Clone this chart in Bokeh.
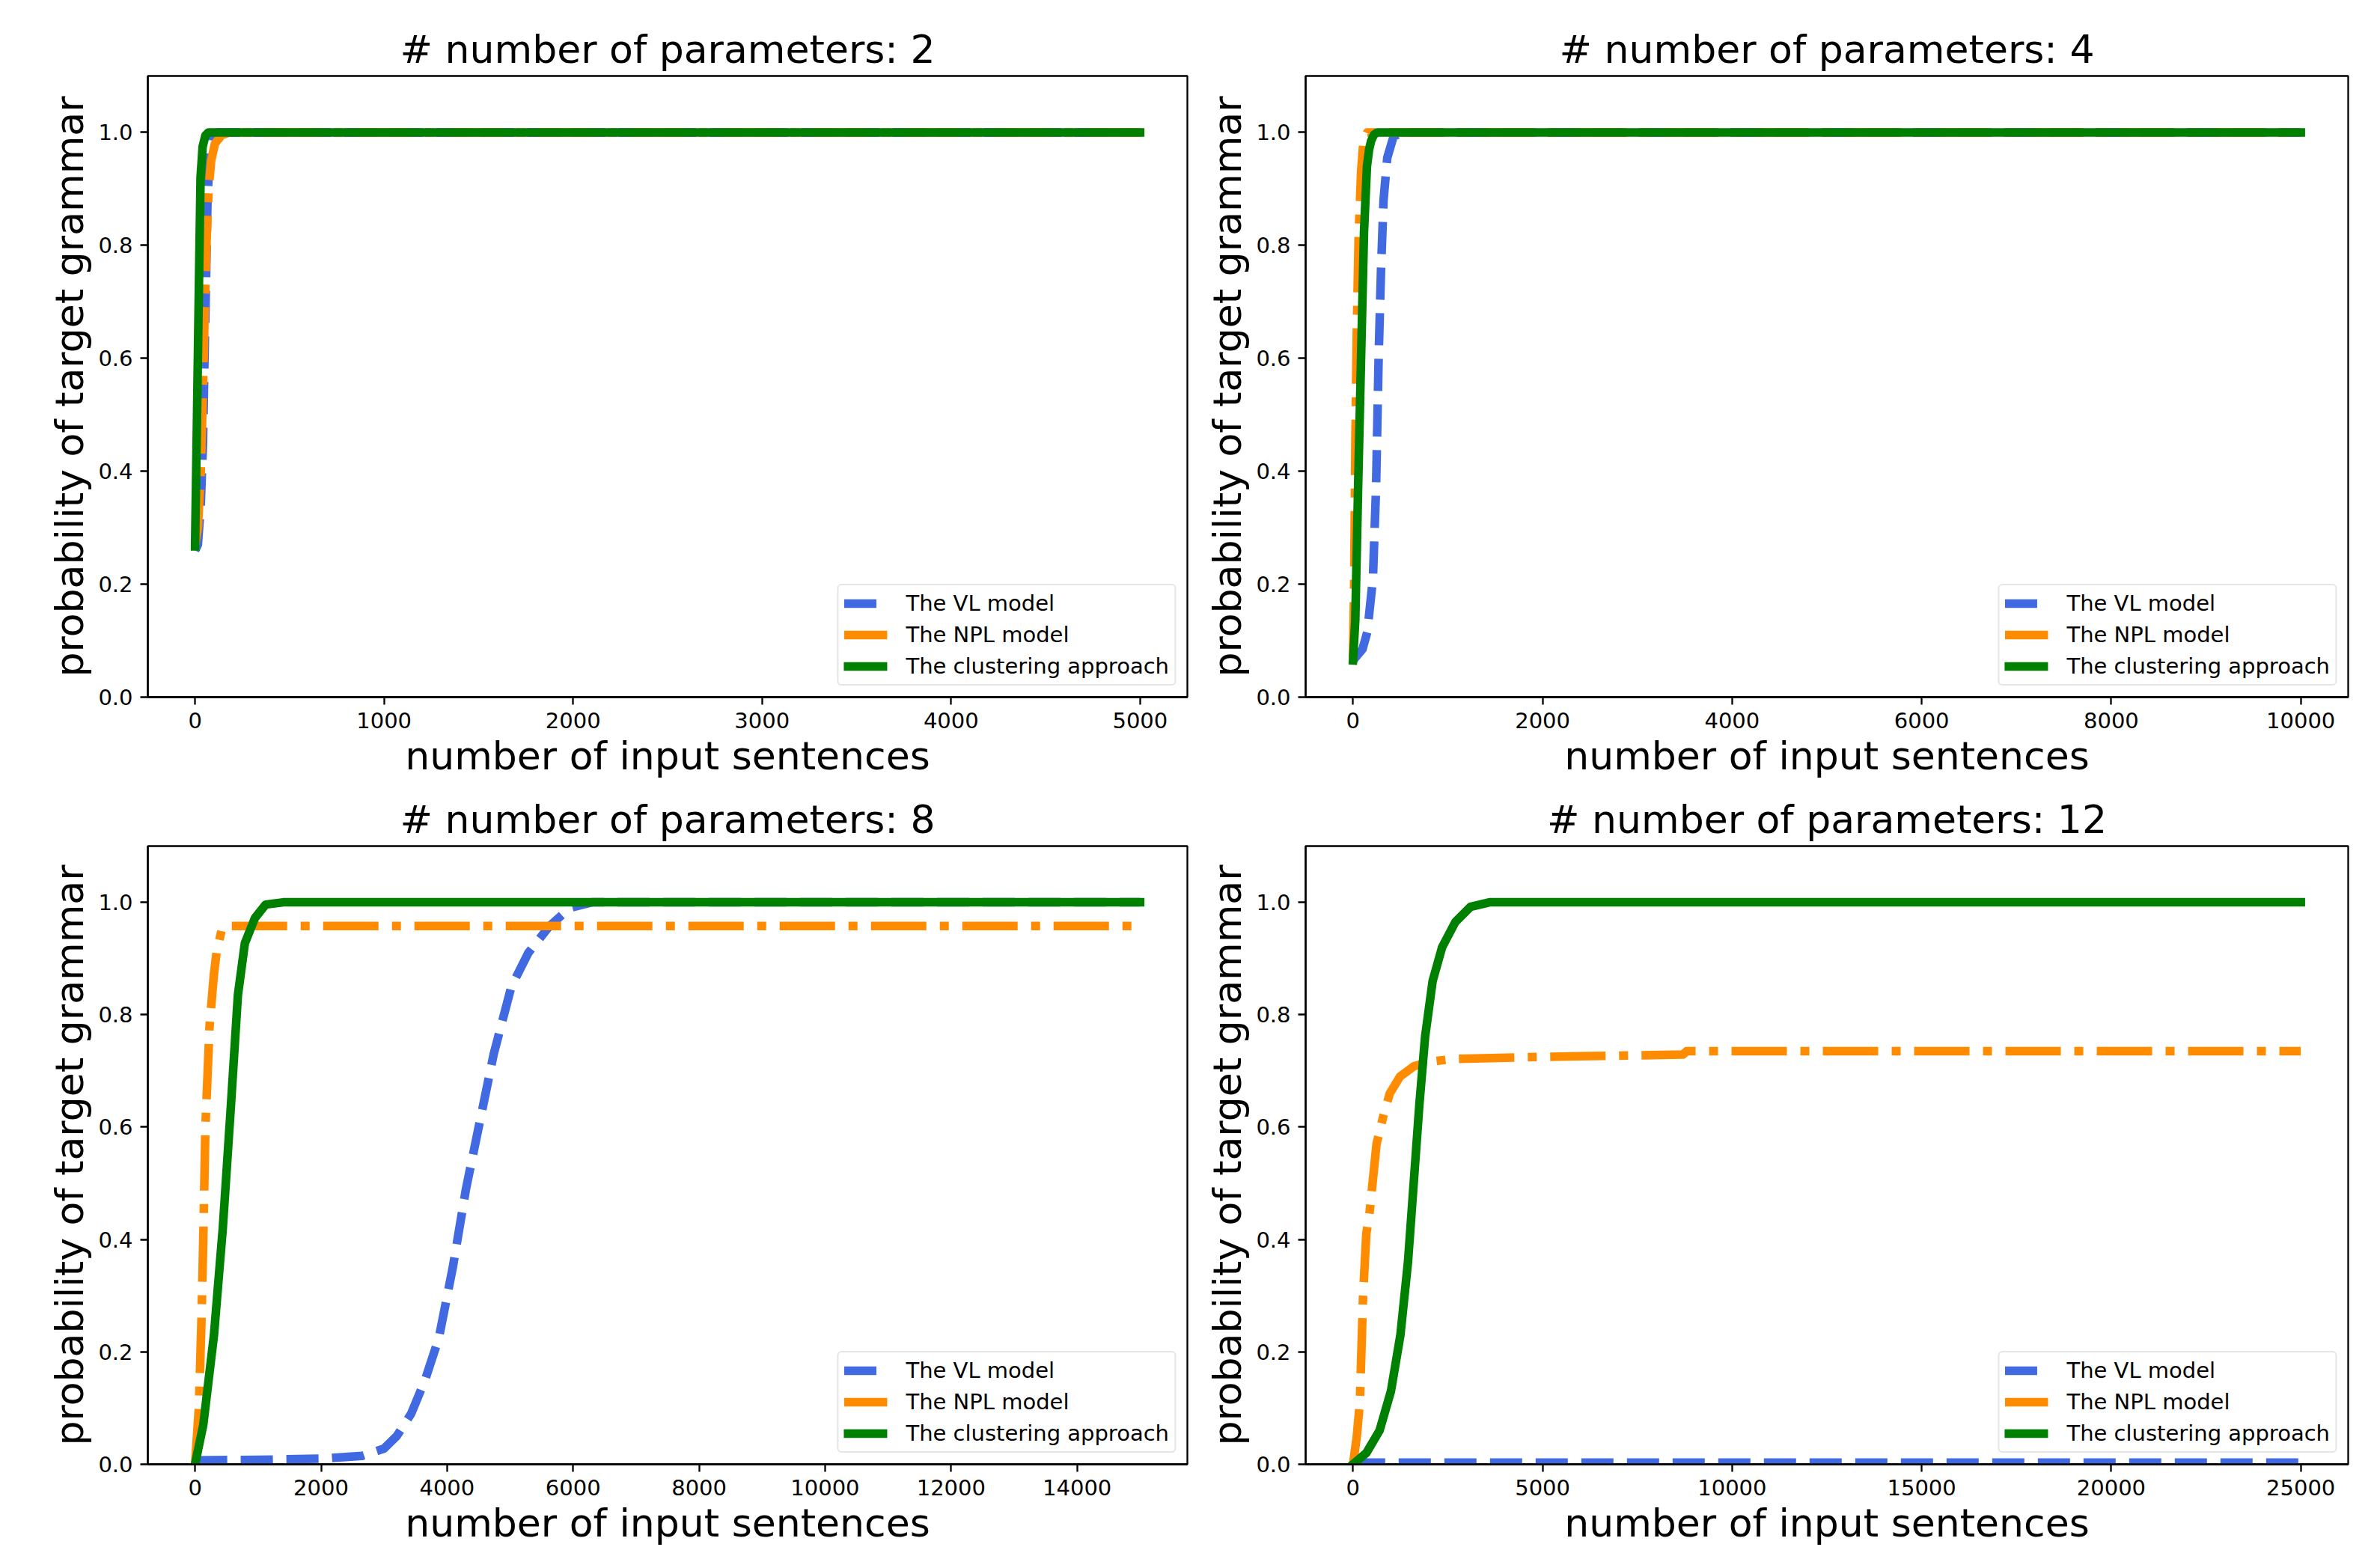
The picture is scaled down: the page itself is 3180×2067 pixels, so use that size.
from bokeh.plotting import figure
from bokeh.layouts import column, row
from bokeh.models import Range1d, FixedTicker, PrintfTickFormatter
from bokeh.embed import file_html
from bokeh.resources import INLINE

# ---------------- data ----------------
titles = ["# number of parameters: 2", "# number of parameters: 4",
          "# number of parameters: 8", "# number of parameters: 12"]
series_names = ["The VL model", "The NPL model", "The clustering approach"]

# panel: 2 parameters
p2_vl_x = [0, 15, 30, 42, 50, 57, 65, 75, 95, 120, 5000]
p2_vl_y = [0.26, 0.27, 0.34, 0.45, 0.6, 0.72, 0.87, 0.95, 0.99, 1.0, 1.0]
p2_npl_x = [0, 15, 30, 42, 52, 62, 72, 85, 105, 140, 180, 5000]
p2_npl_y = [0.27, 0.3, 0.4, 0.55, 0.7, 0.82, 0.9, 0.95, 0.98, 0.995, 1.0, 1.0]
p2_cl_x = [0, 10, 20, 29, 40, 55, 70, 100, 5000]
p2_cl_y = [0.267, 0.49, 0.72, 0.92, 0.975, 0.995, 1.0, 1.0, 1.0]

# panel: 4 parameters
p4_vl_x = [0, 100, 150, 210, 243, 270, 296, 322, 361, 428, 530, 10000]
p4_vl_y = [0.065, 0.085, 0.115, 0.21, 0.37, 0.6, 0.76, 0.88, 0.955, 0.993, 1.0, 1.0]
p4_npl_x = [0, 12, 25, 40, 60, 85, 110, 150, 10000]
p4_npl_y = [0.07, 0.2, 0.45, 0.65, 0.82, 0.93, 0.985, 1.0, 1.0]
p4_cl_x = [0, 24, 53, 84, 116, 147, 170, 191, 220, 257, 10000]
p4_cl_y = [0.065, 0.137, 0.366, 0.595, 0.824, 0.94, 0.97, 0.985, 0.996, 1.0, 1.0]

# panel: 8 parameters
p8_vl_x = [0, 1000, 2000, 2650, 3000, 3200, 3430, 3650, 3870, 4090, 4300, 4520,
           4740, 5020, 5290, 5620, 5950, 6300, 15000]
p8_vl_y = [0.007, 0.008, 0.01, 0.015, 0.028, 0.05, 0.09, 0.15, 0.225, 0.35, 0.49,
           0.61, 0.73, 0.85, 0.91, 0.957, 0.99, 1.0, 1.0]
p8_npl_x = [0, 60, 100, 130, 164, 230, 297, 340, 430, 520, 15000]
p8_npl_y = [0.0, 0.1, 0.25, 0.4, 0.6, 0.78, 0.87, 0.91, 0.955, 0.958, 0.958]
p8_cl_x = [0, 130, 300, 440, 570, 680, 790, 950, 1120, 1400, 15000]
p8_cl_y = [0.0, 0.07, 0.23, 0.42, 0.64, 0.835, 0.927, 0.972, 0.996, 1.0, 1.0]

# panel: 12 parameters
p12_vl_x = [0, 25000]
p12_vl_y = [0.003, 0.003]
p12_npl_x = [0, 100, 180, 265, 350, 440, 620, 800, 970, 1240, 1600, 2000, 2600,
             4300, 6000, 8700, 8800, 25000]
p12_npl_y = [0.0, 0.05, 0.11, 0.3, 0.41, 0.45, 0.57, 0.62, 0.66, 0.69, 0.708,
             0.716, 0.721, 0.724, 0.726, 0.729, 0.735, 0.735]
p12_cl_x = [0, 350, 700, 1000, 1250, 1450, 1600, 1750, 1900, 2100, 2350, 2700,
            3100, 3600, 25000]
p12_cl_y = [0.0, 0.02, 0.06, 0.13, 0.23, 0.36, 0.5, 0.64, 0.76, 0.86, 0.92,
            0.965, 0.992, 1.0, 1.0]

x_ticks = [[0, 1000, 2000, 3000, 4000, 5000],
           [0, 2000, 4000, 6000, 8000, 10000],
           [0, 2000, 4000, 6000, 8000, 10000, 12000, 14000],
           [0, 5000, 10000, 15000, 20000, 25000]]
x_max = [5000, 10000, 15000, 25000]
y_ticks = [0.0, 0.2, 0.4, 0.6, 0.8, 1.0]

panels = [
    [(p2_vl_x, p2_vl_y), (p2_npl_x, p2_npl_y), (p2_cl_x, p2_cl_y)],
    [(p4_vl_x, p4_vl_y), (p4_npl_x, p4_npl_y), (p4_cl_x, p4_cl_y)],
    [(p8_vl_x, p8_vl_y), (p8_npl_x, p8_npl_y), (p8_cl_x, p8_cl_y)],
    [(p12_vl_x, p12_vl_y), (p12_npl_x, p12_npl_y), (p12_cl_x, p12_cl_y)],
]

# ---------------- styling ----------------
FONT = "DejaVu Sans"
colors = ["#4169E1", "#FF8C00", "#008000"]
dashes = ["43 18", "74 18 12 18", "solid"]
caps = ["butt", "butt", "square"]
LW = 11.5


def make(i, width, height, bl, br, bt, bb):
    xm = x_max[i]
    p = figure(width=width, height=height,
               x_range=Range1d(-0.05 * xm, 1.05 * xm), y_range=Range1d(0, 1.1),
               output_backend="svg", toolbar_location=None,
               min_border_left=bl, min_border_right=br,
               min_border_top=bt, min_border_bottom=bb,
               title=titles[i])
    p.background_fill_color = "white"
    p.border_fill_color = "white"
    p.outline_line_color = "black"
    p.outline_line_width = 2.3
    p.outline_line_alpha = 1
    p.xgrid.visible = False
    p.ygrid.visible = False

    p.title.text_font = FONT
    p.title.text_font_size = "52px"
    p.title.text_font_style = "normal"
    p.title.align = "center"
    p.title.text_color = "black"
    p.title.standoff = 12

    for k, (xs, ys) in enumerate(panels[i]):
        p.line(xs, ys, line_color=colors[k], line_width=LW, line_dash=dashes[k],
               line_join="round", line_cap=caps[k], legend_label=series_names[k])

    for ax in (p.xaxis[0], p.yaxis[0]):
        ax.major_label_text_font = FONT
        ax.major_label_text_font_size = "29px"
        ax.major_label_text_color = "black"
        ax.axis_label_text_font = FONT
        ax.axis_label_text_font_size = "52px"
        ax.axis_label_text_font_style = "normal"
        ax.axis_label_text_color = "black"
        ax.major_tick_in = 0
        ax.major_tick_out = 10
        ax.major_tick_line_width = 2.3
        ax.major_tick_line_color = "black"
        ax.minor_tick_line_color = None
        ax.axis_line_width = 2.3
        ax.axis_line_color = "black"

    p.xaxis.ticker = FixedTicker(ticks=x_ticks[i])
    p.xaxis.formatter = PrintfTickFormatter(format="%d")
    p.xaxis.axis_label = "number of input sentences"
    p.xaxis.major_label_standoff = 10
    p.xaxis.axis_label_standoff = 4

    p.yaxis.ticker = FixedTicker(ticks=y_ticks)
    p.yaxis.formatter = PrintfTickFormatter(format="%.1f")
    p.yaxis.axis_label = "probability of target grammar"
    p.yaxis.major_label_standoff = 10
    p.yaxis.axis_label_standoff = 5

    lg = p.legend[0]
    lg.location = "bottom_right"
    lg.margin = 15
    lg.padding = 7
    lg.spacing = 8
    lg.glyph_width = 58
    lg.glyph_height = 30
    lg.label_standoff = 25
    lg.label_text_font = FONT
    lg.label_text_font_size = "29px"
    lg.label_text_color = "black"
    lg.border_line_color = "#cccccc"
    lg.border_line_width = 2
    lg.background_fill_alpha = 0.8
    try:
        lg.border_radius = 6
    except Exception:
        pass
    return p


p1 = make(0, 1596, 1050, 197, 10, 101, 119)
p2 = make(1, 1561, 1050, 148, 20, 101, 119)
p3 = make(2, 1596, 1017, 197, 10, 80, 110)
p4 = make(3, 1561, 1017, 148, 20, 80, 110)

layout = column(row(p1, p2), row(p3, p4))
open("out.html", "w").write(file_html(layout, INLINE))
